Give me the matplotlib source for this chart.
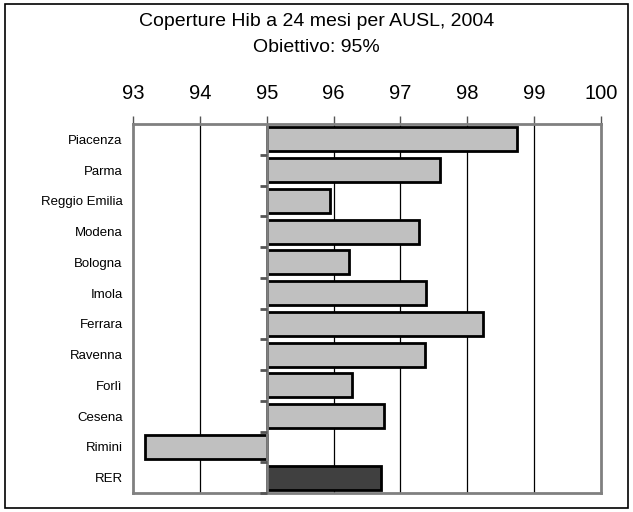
import matplotlib.pyplot as plt
from matplotlib.patches import Rectangle

# Data
ausl = ['Piacenza', 'Parma', 'Reggio Emilia', 'Modena', 'Bologna', 'Imola',
        'Ferrara', 'Ravenna', 'Forlì', 'Cesena', 'Rimini', 'RER']
coverage = [98.74, 97.59, 95.95, 97.28, 96.23, 97.38,
            98.23, 97.37, 96.28, 96.75, 93.18, 96.71]
target = 95
x_ticks = [93, 94, 95, 96, 97, 98, 99, 100]

plt.rcParams['font.family'] = ['Liberation Sans', 'DejaVu Sans']

fig = plt.figure(figsize=(6.33, 5.12), dpi=100)
ax = fig.add_axes([133 / 633, 19 / 512, 468 / 633, 369 / 512])

pos = list(range(len(ausl)))
colors = ['#c0c0c0'] * (len(ausl) - 1) + ['#404040']
widths = [v - target for v in coverage]
ax.barh(pos, widths, left=target, height=0.78, color=colors,
        edgecolor='black', linewidth=2, zorder=3)

ax.set_xlim(x_ticks[0], x_ticks[-1])
ax.set_ylim(len(ausl) - 0.5, -0.5)

# grid lines and top axis
ax.set_xticks(x_ticks)
ax.xaxis.tick_top()
ax.tick_params(axis='x', direction='out', length=6, width=1, color='#555555',
               labelsize=14.5, pad=9)
for t in x_ticks[1:-1]:
    ax.axvline(t, color='black', linewidth=0.9, zorder=1)

ax.set_yticks(pos)
ax.set_yticklabels(ausl, fontsize=9.5)
ax.tick_params(axis='y', length=0, pad=7.5)

for s in ax.spines.values():
    s.set_color('#808080')
    s.set_linewidth(2)

# vertical axis at the target with small category ticks
ax.axvline(target, color='#808080', linewidth=2, zorder=4)
bounds = [i + 0.5 for i in pos]
ax.plot([target] * len(bounds), bounds, linestyle='none', marker=0,
        markersize=5, color='#555555', markeredgewidth=2, zorder=4,
        clip_on=False)

fig.text(0.500, 1 - 22 / 512, 'Coperture Hib a 24 mesi per AUSL, 2004',
         ha='center', va='center', fontsize=14)
fig.text(0.500, 1 - 47 / 512, 'Obiettivo: 95%', ha='center', va='center',
         fontsize=14)

fig.patches.append(Rectangle((5 / 633, 4 / 512), 623 / 633, 504 / 512,
                             transform=fig.transFigure, fill=False,
                             edgecolor='black', linewidth=1.2))

fig.savefig('out.png', dpi=100)
